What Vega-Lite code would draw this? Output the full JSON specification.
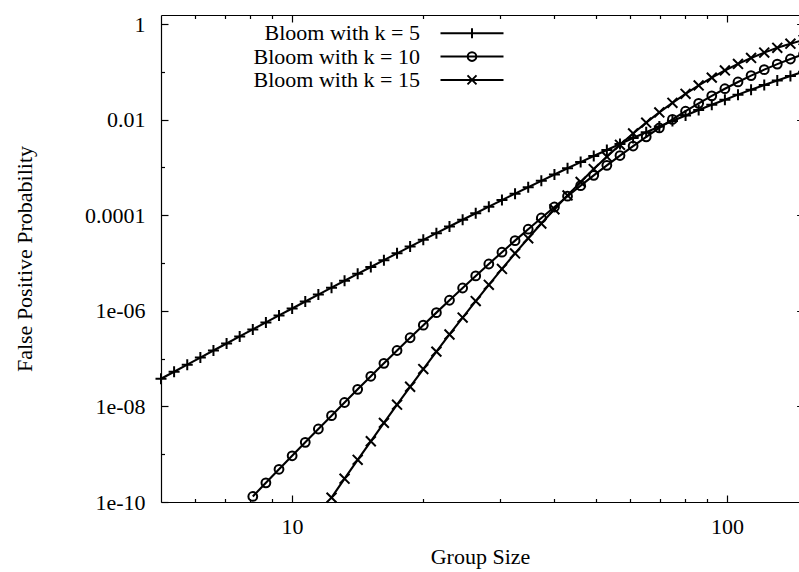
{
  "$schema": "https://vega.github.io/schema/vega-lite/v6.json",
  "width": 638,
  "height": 487,
  "autosize": {"type": "none"},
  "padding": {"left": 161, "top": 15, "right": 0, "bottom": 70},
  "background": "white",
  "datasets": {
    "fp": [
      {"series": "Bloom with k = 5", "x": 5, "y": 3.787e-8},
      {"series": "Bloom with k = 5", "x": 5.359, "y": 5.325e-8},
      {"series": "Bloom with k = 5", "x": 5.745, "y": 7.486e-8},
      {"series": "Bloom with k = 5", "x": 6.158, "y": 1.052e-7},
      {"series": "Bloom with k = 5", "x": 6.6, "y": 1.478e-7},
      {"series": "Bloom with k = 5", "x": 7.075, "y": 2.075e-7},
      {"series": "Bloom with k = 5", "x": 7.583, "y": 2.912e-7},
      {"series": "Bloom with k = 5", "x": 8.128, "y": 4.082e-7},
      {"series": "Bloom with k = 5", "x": 8.712, "y": 5.719e-7},
      {"series": "Bloom with k = 5", "x": 9.338, "y": 8.012e-7},
      {"series": "Bloom with k = 5", "x": 10.01, "y": 1.121e-6},
      {"series": "Bloom with k = 5", "x": 10.73, "y": 1.568e-6},
      {"series": "Bloom with k = 5", "x": 11.5, "y": 2.19e-6},
      {"series": "Bloom with k = 5", "x": 12.33, "y": 3.057e-6},
      {"series": "Bloom with k = 5", "x": 13.21, "y": 4.262e-6},
      {"series": "Bloom with k = 5", "x": 14.16, "y": 5.936e-6},
      {"series": "Bloom with k = 5", "x": 15.18, "y": 8.26e-6},
      {"series": "Bloom with k = 5", "x": 16.27, "y": 1.148e-5},
      {"series": "Bloom with k = 5", "x": 17.44, "y": 1.594e-5},
      {"series": "Bloom with k = 5", "x": 18.69, "y": 2.209e-5},
      {"series": "Bloom with k = 5", "x": 20.04, "y": 3.058e-5},
      {"series": "Bloom with k = 5", "x": 21.48, "y": 4.227e-5},
      {"series": "Bloom with k = 5", "x": 23.02, "y": 5.833e-5},
      {"series": "Bloom with k = 5", "x": 24.68, "y": 8.034e-5},
      {"series": "Bloom with k = 5", "x": 26.45, "y": 1.104e-4},
      {"series": "Bloom with k = 5", "x": 28.35, "y": 1.515e-4},
      {"series": "Bloom with k = 5", "x": 30.39, "y": 2.075e-4},
      {"series": "Bloom with k = 5", "x": 32.57, "y": 2.834e-4},
      {"series": "Bloom with k = 5", "x": 34.92, "y": 3.862e-4},
      {"series": "Bloom with k = 5", "x": 37.43, "y": 5.249e-4},
      {"series": "Bloom with k = 5", "x": 40.12, "y": 7.115e-4},
      {"series": "Bloom with k = 5", "x": 43.0, "y": 9.616e-4},
      {"series": "Bloom with k = 5", "x": 46.09, "y": 1.296e-3},
      {"series": "Bloom with k = 5", "x": 49.4, "y": 1.74e-3},
      {"series": "Bloom with k = 5", "x": 52.95, "y": 2.328e-3},
      {"series": "Bloom with k = 5", "x": 56.76, "y": 3.102e-3},
      {"series": "Bloom with k = 5", "x": 60.84, "y": 4.12e-3},
      {"series": "Bloom with k = 5", "x": 65.21, "y": 5.448e-3},
      {"series": "Bloom with k = 5", "x": 69.9, "y": 7.17e-3},
      {"series": "Bloom with k = 5", "x": 74.92, "y": 9.393e-3},
      {"series": "Bloom with k = 5", "x": 80.31, "y": 1.224e-2},
      {"series": "Bloom with k = 5", "x": 86.08, "y": 1.588e-2},
      {"series": "Bloom with k = 5", "x": 92.27, "y": 2.047e-2},
      {"series": "Bloom with k = 5", "x": 98.9, "y": 2.623e-2},
      {"series": "Bloom with k = 5", "x": 106.0, "y": 3.341e-2},
      {"series": "Bloom with k = 5", "x": 113.6, "y": 4.228e-2},
      {"series": "Bloom with k = 5", "x": 121.8, "y": 5.313e-2},
      {"series": "Bloom with k = 5", "x": 130.5, "y": 6.632e-2},
      {"series": "Bloom with k = 5", "x": 139.9, "y": 8.211e-2},
      {"series": "Bloom with k = 5", "x": 150.0, "y": 0.1009},
      {"series": "Bloom with k = 10", "x": 8.128, "y": 1.306e-10},
      {"series": "Bloom with k = 10", "x": 8.712, "y": 2.516e-10},
      {"series": "Bloom with k = 10", "x": 9.338, "y": 4.837e-10},
      {"series": "Bloom with k = 10", "x": 10.01, "y": 9.267e-10},
      {"series": "Bloom with k = 10", "x": 10.73, "y": 1.771e-9},
      {"series": "Bloom with k = 10", "x": 11.5, "y": 3.372e-9},
      {"series": "Bloom with k = 10", "x": 12.33, "y": 6.398e-9},
      {"series": "Bloom with k = 10", "x": 13.21, "y": 1.209e-8},
      {"series": "Bloom with k = 10", "x": 14.16, "y": 2.276e-8},
      {"series": "Bloom with k = 10", "x": 15.18, "y": 4.267e-8},
      {"series": "Bloom with k = 10", "x": 16.27, "y": 7.963e-8},
      {"series": "Bloom with k = 10", "x": 17.44, "y": 1.479e-7},
      {"series": "Bloom with k = 10", "x": 18.69, "y": 2.733e-7},
      {"series": "Bloom with k = 10", "x": 20.04, "y": 5.021e-7},
      {"series": "Bloom with k = 10", "x": 21.48, "y": 9.172e-7},
      {"series": "Bloom with k = 10", "x": 23.02, "y": 1.665e-6},
      {"series": "Bloom with k = 10", "x": 24.68, "y": 3.002e-6},
      {"series": "Bloom with k = 10", "x": 26.45, "y": 5.377e-6},
      {"series": "Bloom with k = 10", "x": 28.35, "y": 9.555e-6},
      {"series": "Bloom with k = 10", "x": 30.39, "y": 1.685e-5},
      {"series": "Bloom with k = 10", "x": 32.57, "y": 2.945e-5},
      {"series": "Bloom with k = 10", "x": 34.92, "y": 5.104e-5},
      {"series": "Bloom with k = 10", "x": 37.43, "y": 8.758e-5},
      {"series": "Bloom with k = 10", "x": 40.12, "y": 1.488e-4},
      {"series": "Bloom with k = 10", "x": 43.0, "y": 2.502e-4},
      {"series": "Bloom with k = 10", "x": 46.09, "y": 4.16e-4},
      {"series": "Bloom with k = 10", "x": 49.4, "y": 6.834e-4},
      {"series": "Bloom with k = 10", "x": 52.95, "y": 1.109e-3},
      {"series": "Bloom with k = 10", "x": 56.76, "y": 1.776e-3},
      {"series": "Bloom with k = 10", "x": 60.84, "y": 2.806e-3},
      {"series": "Bloom with k = 10", "x": 65.21, "y": 4.369e-3},
      {"series": "Bloom with k = 10", "x": 69.9, "y": 6.705e-3},
      {"series": "Bloom with k = 10", "x": 74.92, "y": 1.012e-2},
      {"series": "Bloom with k = 10", "x": 80.31, "y": 1.504e-2},
      {"series": "Bloom with k = 10", "x": 86.08, "y": 2.197e-2},
      {"series": "Bloom with k = 10", "x": 92.27, "y": 3.154e-2},
      {"series": "Bloom with k = 10", "x": 98.9, "y": 4.447e-2},
      {"series": "Bloom with k = 10", "x": 106.0, "y": 6.155e-2},
      {"series": "Bloom with k = 10", "x": 113.6, "y": 8.357e-2},
      {"series": "Bloom with k = 10", "x": 121.8, "y": 0.1113},
      {"series": "Bloom with k = 10", "x": 130.5, "y": 0.1454},
      {"series": "Bloom with k = 10", "x": 139.9, "y": 0.1861},
      {"series": "Bloom with k = 10", "x": 150.0, "y": 0.2336},
      {"series": "Bloom with k = 15", "x": 12.33, "y": 1.235e-10},
      {"series": "Bloom with k = 15", "x": 13.21, "y": 3.081e-10},
      {"series": "Bloom with k = 15", "x": 14.16, "y": 7.615e-10},
      {"series": "Bloom with k = 15", "x": 15.18, "y": 1.865e-9},
      {"series": "Bloom with k = 15", "x": 16.27, "y": 4.525e-9},
      {"series": "Bloom with k = 15", "x": 17.44, "y": 1.086e-8},
      {"series": "Bloom with k = 15", "x": 18.69, "y": 2.578e-8},
      {"series": "Bloom with k = 15", "x": 20.04, "y": 6.047e-8},
      {"series": "Bloom with k = 15", "x": 21.48, "y": 1.401e-7},
      {"series": "Bloom with k = 15", "x": 23.02, "y": 3.202e-7},
      {"series": "Bloom with k = 15", "x": 24.68, "y": 7.216e-7},
      {"series": "Bloom with k = 15", "x": 26.45, "y": 1.603e-6},
      {"series": "Bloom with k = 15", "x": 28.35, "y": 3.503e-6},
      {"series": "Bloom with k = 15", "x": 30.39, "y": 7.527e-6},
      {"series": "Bloom with k = 15", "x": 32.57, "y": 1.59e-5},
      {"series": "Bloom with k = 15", "x": 34.92, "y": 3.296e-5},
      {"series": "Bloom with k = 15", "x": 37.43, "y": 6.704e-5},
      {"series": "Bloom with k = 15", "x": 40.12, "y": 1.336e-4},
      {"series": "Bloom with k = 15", "x": 43.0, "y": 2.604e-4},
      {"series": "Bloom with k = 15", "x": 46.09, "y": 4.966e-4},
      {"series": "Bloom with k = 15", "x": 49.4, "y": 9.253e-4},
      {"series": "Bloom with k = 15", "x": 52.95, "y": 1.682e-3},
      {"series": "Bloom with k = 15", "x": 56.76, "y": 2.982e-3},
      {"series": "Bloom with k = 15", "x": 60.84, "y": 5.152e-3},
      {"series": "Bloom with k = 15", "x": 65.21, "y": 8.66e-3},
      {"series": "Bloom with k = 15", "x": 69.9, "y": 1.416e-2},
      {"series": "Bloom with k = 15", "x": 74.92, "y": 2.251e-2},
      {"series": "Bloom with k = 15", "x": 80.31, "y": 3.476e-2},
      {"series": "Bloom with k = 15", "x": 86.08, "y": 5.211e-2},
      {"series": "Bloom with k = 15", "x": 92.27, "y": 7.582e-2},
      {"series": "Bloom with k = 15", "x": 98.9, "y": 0.1071},
      {"series": "Bloom with k = 15", "x": 106.0, "y": 0.147},
      {"series": "Bloom with k = 15", "x": 113.6, "y": 0.1956},
      {"series": "Bloom with k = 15", "x": 121.8, "y": 0.2531},
      {"series": "Bloom with k = 15", "x": 130.5, "y": 0.3183},
      {"series": "Bloom with k = 15", "x": 139.9, "y": 0.3897},
      {"series": "Bloom with k = 15", "x": 150.0, "y": 0.4649}
    ]
  },
  "data": {"name": "fp"},
  "layer": [
    {
      "mark": {"type": "line", "color": "black", "strokeWidth": 2.1},
      "encoding": {
        "detail": {"field": "series"},
        "x": {
          "field": "x", "type": "quantitative",
          "scale": {"type": "log", "domain": [5, 146.4], "nice": false},
          "axis": {
            "orient": "bottom",
            "values": [6, 7, 8, 9, 10, 20, 30, 40, 50, 60, 70, 80, 90, 100],
            "labelExpr": "datum.value == 10 || datum.value == 100 ? '' + datum.value : ''",
            "tickSize": {"condition": {"test": "datum.value == 10 || datum.value == 100", "value": -7}, "value": -3.5},
            "labelPadding": 21,
            "labelBaseline": "top",
            "title": "Group Size",
            "titleBaseline": "alphabetic",
            "titleY": 61
          }
        },
        "y": {
          "field": "y", "type": "quantitative",
          "scale": {"type": "log", "domain": [1e-10, 1.55], "nice": false},
          "axis": {
            "orient": "left",
            "values": [1e-10, 1e-9, 1e-8, 1e-7, 1e-6, 1e-5, 0.0001, 0.001, 0.01, 0.1, 1],
            "labelExpr": "round(log(datum.value)/LN10) == 0 ? '1' : round(log(datum.value)/LN10) == -2 ? '0.01' : round(log(datum.value)/LN10) == -4 ? '0.0001' : round(log(datum.value)/LN10) == -6 ? '1e-06' : round(log(datum.value)/LN10) == -8 ? '1e-08' : round(log(datum.value)/LN10) == -10 ? '1e-10' : ''",
            "tickSize": {"condition": {"test": "round(log(datum.value)/LN10) % 2 == 0", "value": -7}, "value": -3.5},
            "labelPadding": 23,
            "labelAlign": "right",
            "labelBaseline": "middle",
            "title": "False Positive Probability",
            "titleBaseline": "alphabetic",
            "titleAngle": -90,
            "titleAlign": "center",
            "titleX": -130,
            "titleY": 243.5
          }
        }
      }
    },
    {
      "mark": {"type": "point", "filled": false, "color": "black", "strokeWidth": 2, "size": 121, "opacity": 1},
      "encoding": {
        "x": {
          "field": "x", "type": "quantitative",
          "scale": {"type": "log", "domain": [5, 146.4], "nice": false},
          "axis": {
            "orient": "top",
            "values": [6, 7, 8, 9, 10, 20, 30, 40, 50, 60, 70, 80, 90, 100],
            "labels": false,
            "tickSize": {"condition": {"test": "datum.value == 10 || datum.value == 100", "value": -7}, "value": -3.5},
            "title": null
          }
        },
        "y": {
          "field": "y", "type": "quantitative",
          "scale": {"type": "log", "domain": [1e-10, 1.55], "nice": false},
          "axis": {
            "orient": "right",
            "values": [1e-10, 1e-8, 1e-6, 0.0001, 0.01, 1],
            "labels": false,
            "domain": false,
            "tickSize": -2.4,
            "title": null
          }
        },
        "shape": {
          "field": "series", "type": "nominal",
          "scale": {
            "domain": ["Bloom with k = 5", "Bloom with k = 10", "Bloom with k = 15"],
            "range": [
              "M-1,0L1,0M0,-1L0,1",
              "M-0.8,0A0.8,0.8,0,1,0,0.8,0A0.8,0.8,0,1,0,-0.8,0Z",
              "M-0.9,-0.9L0.9,0.9M-0.9,0.9L0.9,-0.9"
            ]
          },
          "legend": null
        }
      }
    },
    {
      "mark": {"type": "point", "filled": false, "color": "black", "strokeWidth": 2, "opacity": 1, "size": 0},
      "encoding": {
        "x": {"field": "x", "type": "quantitative", "scale": {"type": "log", "domain": [5, 146.4], "nice": false}, "axis": null},
        "y": {"field": "y", "type": "quantitative", "scale": {"type": "log", "domain": [1e-10, 1.55], "nice": false}, "axis": null},
        "shape": {
          "field": "series", "type": "nominal",
          "scale": {
            "domain": ["Bloom with k = 5", "Bloom with k = 10", "Bloom with k = 15"],
            "range": [
              "M-3.15,0L3.15,0M0,-0.5L0,0.5",
              "M-3.15,0L3.15,0M-0.43,0A0.43,0.43,0,1,0,0.43,0A0.43,0.43,0,1,0,-0.43,0Z",
              "M-3.15,0L3.15,0M-0.45,-0.45L0.45,0.45M-0.45,0.45L0.45,-0.45"
            ]
          },
          "legend": {
            "title": null,
            "orient": "none",
            "legendX": 300,
            "legendY": 7.3,
            "padding": 0,
            "symbolSize": 400,
            "symbolStrokeWidth": 2,
            "symbolStrokeColor": "black",
            "symbolOpacity": 1,
            "rowPadding": 1.3,
            "labelAlign": "right",
            "labelBaseline": "middle",
            "labelOffset": -63,
            "labelFont": "Liberation Serif",
            "labelFontSize": 22,
            "labelColor": "black",
            "labelLimit": 400
          }
        }
      }
    }
  ],
  "resolve": {
    "scale": {"shape": "independent"},
    "axis": {"x": "independent", "y": "independent"}
  },
  "config": {
    "view": {"stroke": null},
    "axis": {
      "labelFont": "Liberation Serif",
      "labelFontSize": 22,
      "labelColor": "black",
      "titleFont": "Liberation Serif",
      "titleFontSize": 22,
      "titleFontWeight": "normal",
      "titleColor": "black",
      "domainColor": "black",
      "domainWidth": 1.2,
      "tickColor": "black",
      "tickWidth": 1.2,
      "grid": false,
      "labelOverlap": false,
      "labelFlush": false,
      "labelBound": false
    }
  }
}
